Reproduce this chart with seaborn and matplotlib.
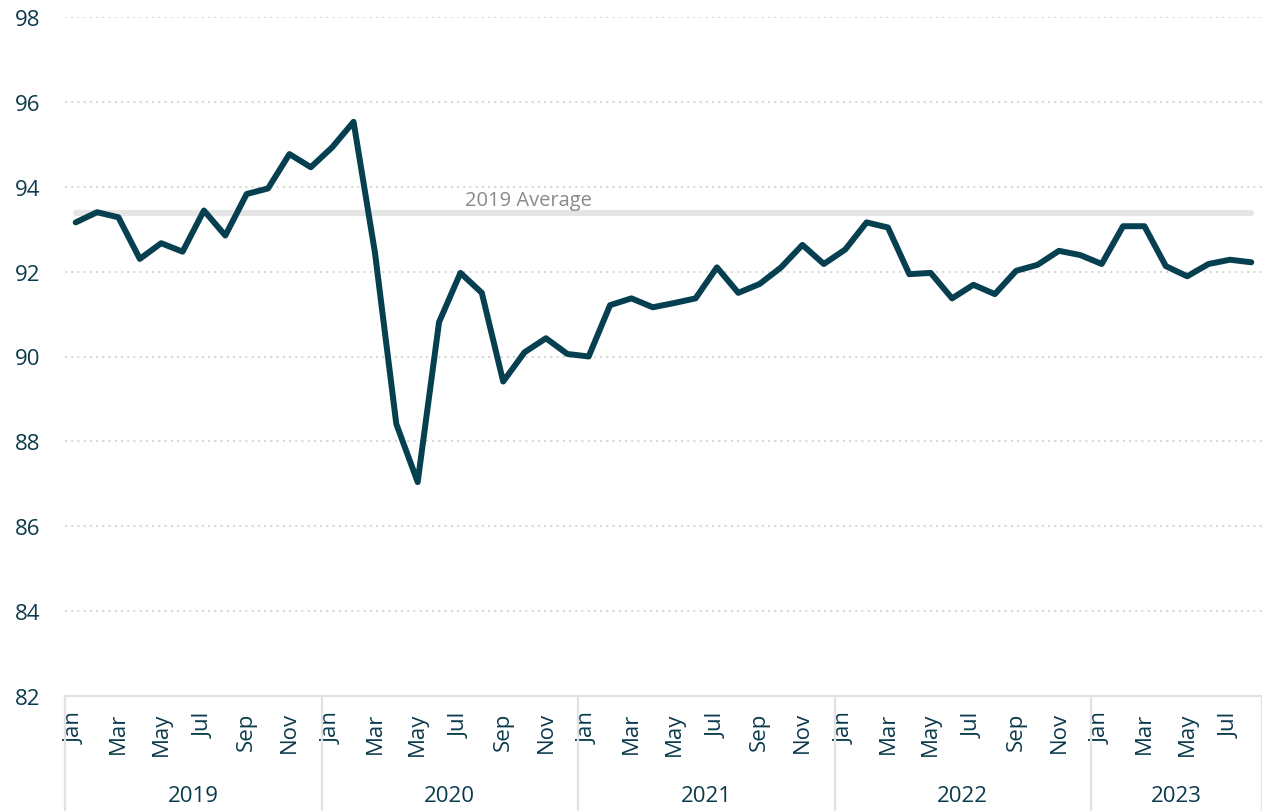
import numpy as np
import pandas as pd
import matplotlib
matplotlib.use("Agg")
import matplotlib.pyplot as plt
import seaborn as sns

years = ["2019", "2020", "2021", "2022", "2023"]
months_per_year = [12, 12, 12, 12, 8]
month_names = ["Jan", "Feb", "Mar", "Apr", "May", "Jun", "Jul", "Aug", "Sep", "Oct", "Nov", "Dec"]

v2019 = [93.16, 93.40, 93.28, 92.30, 92.67, 92.47, 93.44, 92.85, 93.83, 93.96, 94.77, 94.46]
v2020 = [94.93, 95.53, 92.45, 88.41, 87.04, 90.81, 91.97, 91.50, 89.41, 90.10, 90.43, 90.06]
v2021 = [90.00, 91.21, 91.37, 91.16, 91.26, 91.37, 92.10, 91.50, 91.71, 92.10, 92.63, 92.18]
v2022 = [92.52, 93.16, 93.04, 91.94, 91.97, 91.37, 91.69, 91.47, 92.02, 92.16, 92.49, 92.39]
v2023 = [92.18, 93.07, 93.07, 92.13, 91.89, 92.18, 92.28, 92.22]

avg_label = "2019 Average"
y_ticks = [82, 84, 86, 88, 90, 92, 94, 96, 98]

values = v2019 + v2020 + v2021 + v2022 + v2023
labels = []
year_of = []
for y, n in zip(years, months_per_year):
    labels += month_names[:n]
    year_of += [y] * n
idx = np.arange(len(values))
df = pd.DataFrame({"i": idx, "value": values, "month": labels, "year": year_of})
avg2019 = float(np.mean(v2019))
df["avg"] = avg2019

sns.set_style("white")
plt.rcParams["font.family"] = ["Open Sans", "DejaVu Sans"]

TXT = "#0b3a4c"
LINE = "#063f50"

fig = plt.figure(figsize=(12.62, 8.12), dpi=100)
ax = fig.add_axes([65 / 1262, 1 - 697 / 812, 1 - 65 / 1262, (697 - 18) / 812])

sns.lineplot(data=df, x="i", y="avg", ax=ax, color="#e5e5e5", lw=4.4,
             solid_capstyle="round", zorder=2)
sns.lineplot(data=df, x="i", y="value", ax=ax, color=LINE, lw=4.3,
             solid_joinstyle="round", solid_capstyle="round", zorder=3)

ax.text(18.2, avg2019 + 0.07, avg_label, color="#8a8a8a", fontsize=14.5,
        ha="left", va="bottom", zorder=4)

ax.set_xlim(-0.5, len(values) - 0.5)
ax.set_ylim(y_ticks[0], y_ticks[-1])
ax.set_yticks(y_ticks)
ax.set_yticklabels([str(t) for t in y_ticks], fontsize=16, color=TXT)
for t in y_ticks[1:]:
    ax.axhline(t, color="#d4d4d4", lw=1.4, ls=(0, (1, 2.2)), zorder=1)

tick_pos = idx[::2]
ax.set_xticks(tick_pos)
ax.set_xticklabels([labels[i] for i in tick_pos], rotation=90, va="top", ha="center",
                   fontsize=16, color=TXT)
ax.tick_params(axis="x", length=0, pad=11)
ax.tick_params(axis="y", length=0, pad=18)
ax.set_xlabel("")
ax.set_ylabel("")

for s in ["top", "right", "left"]:
    ax.spines[s].set_visible(False)
ax.spines["bottom"].set_color("#e2e2e2")
ax.spines["bottom"].set_linewidth(1.6)

# year group separators and labels
start = 0
bounds = [-0.5]
for y, n in zip(years, months_per_year):
    center = (start - 0.5 + start + n - 0.5) / 2
    ax.text(center, -0.147, y, transform=ax.get_xaxis_transform(), ha="center",
            va="center", fontsize=16, color=TXT)
    start += n
    bounds.append(start - 0.5)
for b in bounds:
    ax.plot([b, b], [0, -0.2], transform=ax.get_xaxis_transform(), color="#e2e2e2",
            lw=1.6, clip_on=False)

fig.savefig("out.png", dpi=100)
